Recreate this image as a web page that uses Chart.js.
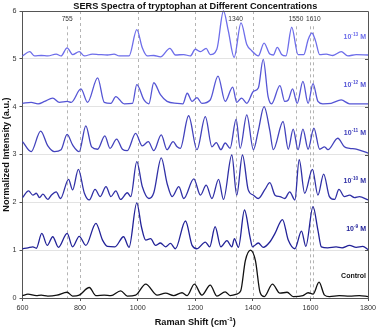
<!DOCTYPE html>
<html>
<head>
<meta charset="utf-8">
<script src="https://cdn.jsdelivr.net/npm/chart.js@4.4.1/dist/chart.umd.min.js"></script>
<style>
html, body { margin: 0; padding: 0; background: #fff; }
</style>
</head>
<body>
<canvas id="myChart" width="379" height="329"></canvas>
<script>
const ctx = document.getElementById('myChart').getContext('2d')

// Raman shift (cm-1) and normalized intensity, one pair of arrays per spectrum
const ctrlShift = [600,619,648,665,688,720,755,774,797,832,855,884,907,941,964,993,1028,1068,1097,1125,1154,1172,1197,1223,1252,1275,1304,1321,1344,1358,1374,1392,1409,1425,1440,1468,1494,1519,1540,1574,1592,1609,1630,1649,1666,1700,1736,1770,1800]
const ctrlInt = [0.05,0.08,0.05,0.06,0.04,0.06,0.12,0.04,0.06,0.22,0.05,0.06,0.05,0.15,0.04,0.06,0.29,0.06,0.10,0.05,0.11,0.05,0.29,0.06,0.27,0.04,0.13,0.05,0.08,0.15,0.78,1.0,0.78,0.12,0.03,0.29,0.10,0.12,0.03,0.05,0.11,0.08,0.33,0.06,0.03,0.05,0.04,0.05,0.03]

const m9Shift = [600,619,636,648,667,686,705,725,755,774,797,820,855,878,895,921,951,970,997,1013,1028,1045,1062,1079,1097,1114,1131,1166,1189,1206,1235,1250,1269,1289,1310,1327,1336,1350,1371,1390,1399,1419,1436,1459,1477,1503,1523,1546,1569,1584,1609,1626,1638,1660,1689,1710,1736,1759,1782,1800]
const m9Int = [1.03,1.05,1.07,1.04,1.35,1.10,1.28,1.06,1.35,1.07,1.29,1.10,1.56,1.21,1.08,1.07,1.28,1.06,1.99,1.49,1.21,1.24,1.10,1.15,1.07,1.14,1.03,1.61,1.10,1.03,1.17,1.07,1.49,1.07,1.20,1.07,1.24,1.06,1.84,1.28,1.07,1.15,1.06,1.17,1.35,1.64,1.21,1.03,1.40,1.08,1.91,1.42,1.07,1.05,1.07,1.05,1.10,1.06,1.08,1.01]

const m10Shift = [600,621,636,648,659,671,688,700,717,732,760,774,794,815,832,852,870,890,907,924,941,964,976,997,1016,1039,1056,1082,1102,1120,1143,1160,1195,1218,1238,1258,1281,1298,1327,1344,1364,1384,1402,1419,1442,1459,1477,1494,1511,1528,1546,1561,1580,1607,1626,1646,1666,1684,1699,1718,1736,1753,1770,1800]
const m10Int = [2.10,2.24,2.15,2.19,2.10,2.17,2.06,2.15,2.22,2.08,2.48,2.26,2.69,2.19,2.05,2.27,2.12,2.33,2.12,2.24,2.06,2.20,2.12,2.85,2.33,2.08,2.20,2.93,2.40,2.12,2.33,2.08,2.49,2.15,2.36,2.08,2.48,2.06,2.99,2.15,2.99,2.26,2.15,2.08,2.27,2.41,2.15,2.12,2.08,2.22,2.05,2.89,2.19,2.69,2.15,2.59,2.12,2.06,2.27,2.12,2.15,2.10,2.12,2.05]

const m11Shift = [600,630,663,688,711,734,755,774,797,820,840,861,886,904,927,947,964,993,1016,1037,1056,1082,1102,1123,1137,1148,1177,1206,1235,1258,1273,1289,1304,1321,1342,1356,1379,1402,1419,1439,1459,1471,1505,1523,1540,1557,1574,1592,1612,1632,1649,1661,1695,1718,1736,1759,1800]
const m11Int = [3.27,3.06,3.49,3.18,3.06,3.10,3.42,3.20,3.06,3.60,3.16,3.11,3.39,3.13,3.32,3.11,3.08,3.44,3.18,3.27,3.08,3.41,3.10,3.27,3.16,3.13,3.81,3.10,3.79,3.16,3.25,3.10,3.24,3.13,3.74,3.13,3.83,3.10,3.50,4.0,3.50,3.10,3.69,3.11,3.53,3.10,3.53,3.11,3.55,3.11,3.16,3.10,3.34,3.16,3.13,3.11,3.03]

const m12Shift = [600,630,654,677,705,728,755,769,803,826,861,884,907,924,953,982,997,1022,1039,1056,1079,1102,1137,1157,1172,1189,1206,1223,1252,1279,1304,1330,1344,1361,1379,1402,1419,1436,1453,1465,1494,1511,1523,1538,1554,1574,1592,1609,1626,1643,1672,1707,1736,1800]
const m12Int = [4.07,4.09,4.06,4.11,4.18,4.09,4.11,4.09,4.37,4.09,4.60,4.09,4.07,4.21,4.06,4.07,4.46,4.14,4.06,4.50,4.25,4.11,4.07,4.06,4.28,4.11,4.19,4.07,4.14,4.64,4.11,4.41,4.09,4.18,4.07,4.32,4.39,4.99,4.21,4.06,4.44,4.11,4.14,4.37,4.07,4.53,4.07,4.48,4.11,4.06,4.07,4.14,4.06,4.06]

const m13Shift = [600,625,642,665,688,717,734,755,774,797,815,843,866,895,918,936,970,997,1016,1033,1056,1079,1112,1131,1160,1183,1200,1218,1238,1252,1275,1298,1315,1335,1359,1379,1396,1419,1439,1459,1471,1485,1500,1515,1535,1557,1577,1592,1605,1618,1632,1655,1678,1707,1730,1759,1800]
const m13Int = [5.06,5.15,5.06,5.07,5.06,5.10,5.06,5.23,5.09,5.15,5.06,5.10,5.09,5.08,5.10,5.06,5.06,5.61,5.23,5.06,5.07,5.04,5.22,5.08,5.09,5.06,5.20,5.15,5.22,5.09,5.20,6.0,5.58,5.03,5.75,5.30,5.17,5.06,5.33,5.10,5.08,5.24,5.09,5.06,5.66,5.09,5.09,5.40,5.54,5.37,5.09,5.10,5.07,5.15,5.06,5.09,5.08]

const seriesNames = ['Control', '10', '10', '10', '10', '10']
const seriesExp = ['', '-9', '-10', '-11', '-12', '-13']
const seriesColors = ['#111111', '#222298', '#3030a6', '#4242bc', '#5555d5', '#6d6dea']

// marked bands
const markShift = [755, 800, 1000, 1200, 1340, 1400, 1550, 1600, 1610]
const markLabels = ['755', '1340', '1550', '1610']
const markLabelShift = [755, 1340, 1550, 1610]

const xTicks = [600, 800, 1000, 1200, 1400, 1600, 1800]
const yTicks = [0, 1, 2, 3, 4, 5, 6]

const FONT = "'Liberation Sans', Arial, sans-serif"

const shifts = [ctrlShift, m9Shift, m10Shift, m11Shift, m12Shift, m13Shift]
const ints = [ctrlInt, m9Int, m10Int, m11Int, m12Int, m13Int]

const datasets = shifts.map((sh, i) => ({
    label: seriesNames[i] + seriesExp[i],
    data: sh.map((x, j) => ({ x: x, y: ints[i][j] })),
    borderColor: seriesColors[i],
    borderWidth: 1.3,
    pointRadius: 0,
    cubicInterpolationMode: 'monotone',
    fill: false,
    clip: false,
}))

// text with a raised part, drawn right-aligned at xr
const drawSup = (c, base, sup, tail, xr, y, size) => {
    const big = 'bold ' + size + 'px ' + FONT
    const small = 'bold ' + (size * 0.68) + 'px ' + FONT
    c.font = big
    const w1 = c.measureText(base).width
    const w3 = c.measureText(tail).width
    c.font = small
    const w2 = c.measureText(sup).width
    let x = xr - (w1 + w2 + w3)
    c.textAlign = 'left'
    c.textBaseline = 'alphabetic'
    c.font = big
    c.fillText(base, x, y)
    x += w1
    c.font = small
    c.fillText(sup, x, y - size * 0.42)
    x += w2
    c.font = big
    c.fillText(tail, x, y)
    return w1 + w2 + w3
}

const decor = {
    id: 'decor',
    beforeDatasetsDraw(chart) {
        const { ctx: c, chartArea: a, scales } = chart
        c.save()
        c.strokeStyle = '#b4b4b4'
        c.lineWidth = 1
        c.setLineDash([3, 3])
        markShift.forEach((m) => {
            const px = Math.round(scales.x.getPixelForValue(m)) + 0.5
            const labelled = markLabelShift.includes(m) || m === 1600
            const top = labelled ? scales.y.getPixelForValue(5.68) : a.top
            c.beginPath()
            c.moveTo(px, top)
            c.lineTo(px, a.bottom)
            c.stroke()
        })
        c.restore()
    },
    afterDraw(chart) {
        const { ctx: c, chartArea: a, scales } = chart
        c.save()
        // top and right frame
        c.strokeStyle = '#555'
        c.lineWidth = 1
        c.beginPath()
        c.moveTo(a.left, a.top + 0.5)
        c.lineTo(a.right + 0.5, a.top + 0.5)
        c.lineTo(a.right + 0.5, a.bottom)
        c.stroke()
        yTicks.forEach((v) => {
            const py = Math.round(scales.y.getPixelForValue(v)) + 0.5
            c.beginPath()
            c.moveTo(a.right, py)
            c.lineTo(a.right - 3, py)
            c.stroke()
        })

        // title
        c.fillStyle = '#111'
        c.font = 'bold 9.2px ' + FONT
        c.textAlign = 'center'
        c.textBaseline = 'alphabetic'
        c.fillText('SERS Spectra of tryptophan at Different Concentrations', (a.left + a.right) / 2, 8.5)

        // y axis title
        c.save()
        c.translate(9, (a.top + a.bottom) / 2)
        c.rotate(-Math.PI / 2)
        c.fillText('Normalized Intensity (a.u.)', 0, 0)
        c.restore()

        // x axis title
        c.font = 'bold 9.2px ' + FONT
        const w1 = c.measureText('Raman Shift (cm').width + c.measureText(')').width
        c.font = 'bold ' + (9.2 * 0.68) + 'px ' + FONT
        const w = w1 + c.measureText('-1').width
        drawSup(c, 'Raman Shift (cm', '-1', ')', (a.left + a.right) / 2 + w / 2, 325, 9.2)

        // concentration labels
        seriesNames.forEach((n, i) => {
            c.fillStyle = i === 0 ? '#111' : seriesColors[i]
            const py = scales.y.getPixelForValue(i + 0.46) + 2.5
            if (i === 0) {
                c.font = 'bold 7px ' + FONT
                c.textAlign = 'right'
                c.fillText(n, a.right - 2, py)
            } else {
                drawSup(c, n, seriesExp[i], ' M', a.right - 2, py, 7)
            }
        })

        // band labels
        c.fillStyle = '#333'
        c.font = '6.6px ' + FONT
        c.textAlign = 'center'
        c.textBaseline = 'middle'
        markLabelShift.forEach((m, i) => {
            const px = scales.x.getPixelForValue(m)
            c.fillText(markLabels[i], px, scales.y.getPixelForValue(5.82))
        })
        c.restore()
    }
}

const config = {
    type: 'line',
    data: { datasets: datasets },
    options: {
        responsive: false,
        animation: false,
        layout: { padding: { top: 11, right: 9, left: 0, bottom: 0 } },
        plugins: {
            legend: { display: false },
            tooltip: { enabled: false },
            title: { display: false },
        },
        scales: {
            x: {
                type: 'linear',
                min: 600,
                max: 1800,
                afterBuildTicks: (s) => { s.ticks = xTicks.map((v) => ({ value: v })) },
                afterFit: (s) => { s.height = 31 },
                ticks: {
                    color: '#333',
                    font: { size: 7.2, family: FONT },
                    padding: 3,
                    maxRotation: 0,
                    callback: (v) => String(v),
                },
                grid: {
                    drawOnChartArea: false,
                    tickLength: 3,
                    color: '#555',
                },
                border: { color: '#555', width: 1 },
            },
            y: {
                min: 0,
                max: 6,
                afterBuildTicks: (s) => { s.ticks = yTicks.map((v) => ({ value: v })) },
                afterFit: (s) => { s.width = 22.5 },
                ticks: {
                    color: '#333',
                    font: { size: 7.2, family: FONT },
                    padding: 3,
                    callback: (v) => String(v),
                },
                grid: {
                    color: '#e3e3e3',
                    tickColor: '#555',
                    tickLength: 3,
                },
                border: { color: '#555', width: 1 },
            },
        },
    },
    plugins: [decor],
}

const myChart = new Chart(ctx, config)
</script>
</body>
</html>
